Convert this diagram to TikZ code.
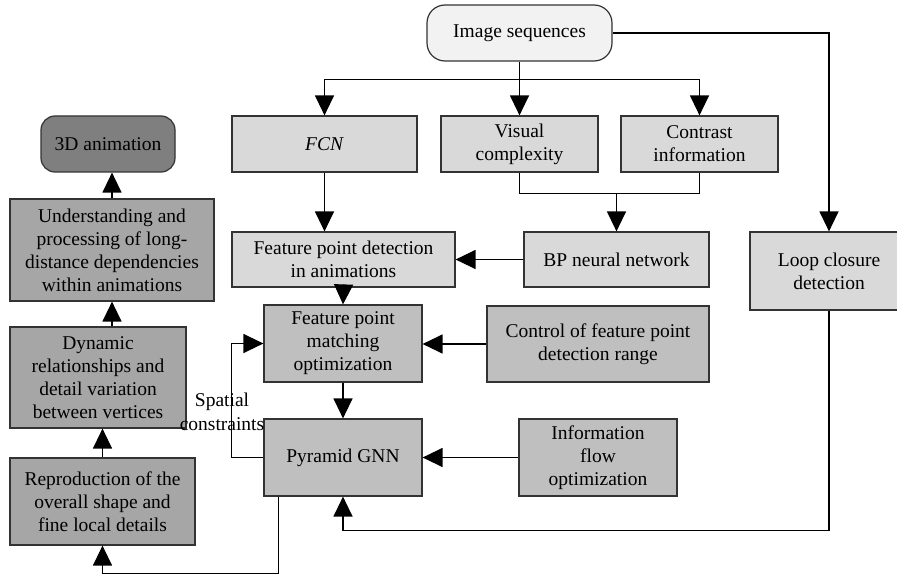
\documentclass[tikz,border=0pt]{standalone}
\usepackage{fontspec}
\setmainfont{Liberation Serif}
\newfontfamily\boxfont{Liberation Serif}
\usetikzlibrary{arrows.meta}
\definecolor{shadeA}{HTML}{F2F2F2}
\definecolor{shadeB}{HTML}{D9D9D9}
\definecolor{shadeC}{HTML}{BFBFBF}
\definecolor{shadeD}{HTML}{A6A6A6}
\definecolor{shadeE}{HTML}{7F7F7F}
\begin{document}
\begin{tikzpicture}[x=1pt,y=-1pt,
  box/.style={draw=black!80, line width=1.2pt, align=center, inner sep=2pt,
    font=\boxfont\fontsize{19.5}{23}\selectfont},
  flow/.style={line width=1.3pt, -{Triangle[length=20pt,width=19pt]}},
  link/.style={line width=1.3pt}]
\clip (0,0) rectangle (897,575);
\fill[white] (0,0) rectangle (897,575);
% Input and first stage
\node[box, fill=shadeA, rounded corners=18pt, minimum width=185pt, minimum height=56pt] (imgseq) at (519.5,33) {Image sequences};
\node[box, fill=shadeB, minimum width=185pt, minimum height=56pt] (fcn) at (324.5,144) {\textit{FCN}};
\node[box, fill=shadeB, minimum width=157pt, minimum height=56pt] (vis) at (519.5,144) {Visual\\complexity};
\node[box, fill=shadeB, minimum width=157pt, minimum height=56pt] (con) at (699.5,144) {Contrast\\information};
% Detection stage
\node[box, fill=shadeB, minimum width=223pt, minimum height=55pt] (fpd) at (343.5,259.5) {Feature point detection\\in animations};
\node[box, fill=shadeB, minimum width=185pt, minimum height=55pt] (bp) at (616.5,259.5) {BP neural network};
\node[box, fill=shadeB, minimum width=158pt, minimum height=78pt] (loop) at (829,271) {Loop closure\\detection};
% Matching and GNN
\node[box, fill=shadeC, minimum width=158pt, minimum height=77pt] (fpmo) at (343,343.5) {Feature point\\matching\\optimization};
\node[box, fill=shadeC, minimum width=222pt, minimum height=76pt] (ctrl) at (598,344) {Control of feature point\\detection range};
\node[box, fill=shadeC, minimum width=158pt, minimum height=77pt] (pgnn) at (343,457.5) {Pyramid GNN};
\node[box, fill=shadeC, minimum width=158pt, minimum height=77pt] (info) at (598,457.5) {Information\\flow\\optimization};
% Left column
\node[box, fill=shadeE, rounded corners=14pt, minimum width=134pt, minimum height=56pt] (anim3d) at (108,144) {3D animation};
\node[box, fill=shadeD, minimum width=204pt, minimum height=102pt] (und) at (112,250) {Understanding and\\processing of long-\\distance dependencies\\within animations};
\node[box, fill=shadeD, minimum width=176pt, minimum height=101pt] (dyn) at (98,377.5) {Dynamic\\relationships and\\detail variation\\between vertices};
\node[box, fill=shadeD, minimum width=185pt, minimum height=87pt] (rep) at (102.5,501.5) {Reproduction of the\\overall shape and\\fine local details};
% Connectors
\draw[flow] (imgseq.south) -- (vis.north);
\draw[flow] ([yshift=-18pt]imgseq.south) -| (fcn.north);
\draw[flow] ([yshift=-18pt]imgseq.south) -| (con.north);
\draw[flow] (imgseq.east) -| (loop.north);
\draw[link] (vis.south) -- ++(0,21) -| (con.south);
\draw[flow] (bp.north |- 0,193) -- (bp.north);
\draw[flow] (fcn.south) -- (fcn.south |- fpd.north);
\draw[flow] (bp.west) -- (bp.west -| fpd.east);
\draw[flow] (fpd.south) -- (fpmo.north);
\draw[flow] (ctrl.west) -- (ctrl.west -| fpmo.east);
\draw[flow] (fpmo.south) -- (pgnn.north);
\draw[flow] (info.west) -- (pgnn.east);
\draw[flow] (loop.south) -- ++(0,220) -| (pgnn.south);
\draw[flow] (pgnn.west) -- ++(-32,0) |- (fpmo.west);
\node[font=\boxfont\fontsize{19.5}{24}\selectfont, align=center, inner sep=0pt] (spatial) at (222,412) {Spatial\\constraints};
\draw[flow] ([xshift=15pt]pgnn.south west) -- ++(0,77) -| (rep.south);
\draw[flow] (rep.north) -- (rep.north |- dyn.south);
\draw[flow] (und.south |- dyn.north) -- (und.south);
\draw[flow] (und.north) -- (und.north |- anim3d.south);
\end{tikzpicture}
\end{document}
